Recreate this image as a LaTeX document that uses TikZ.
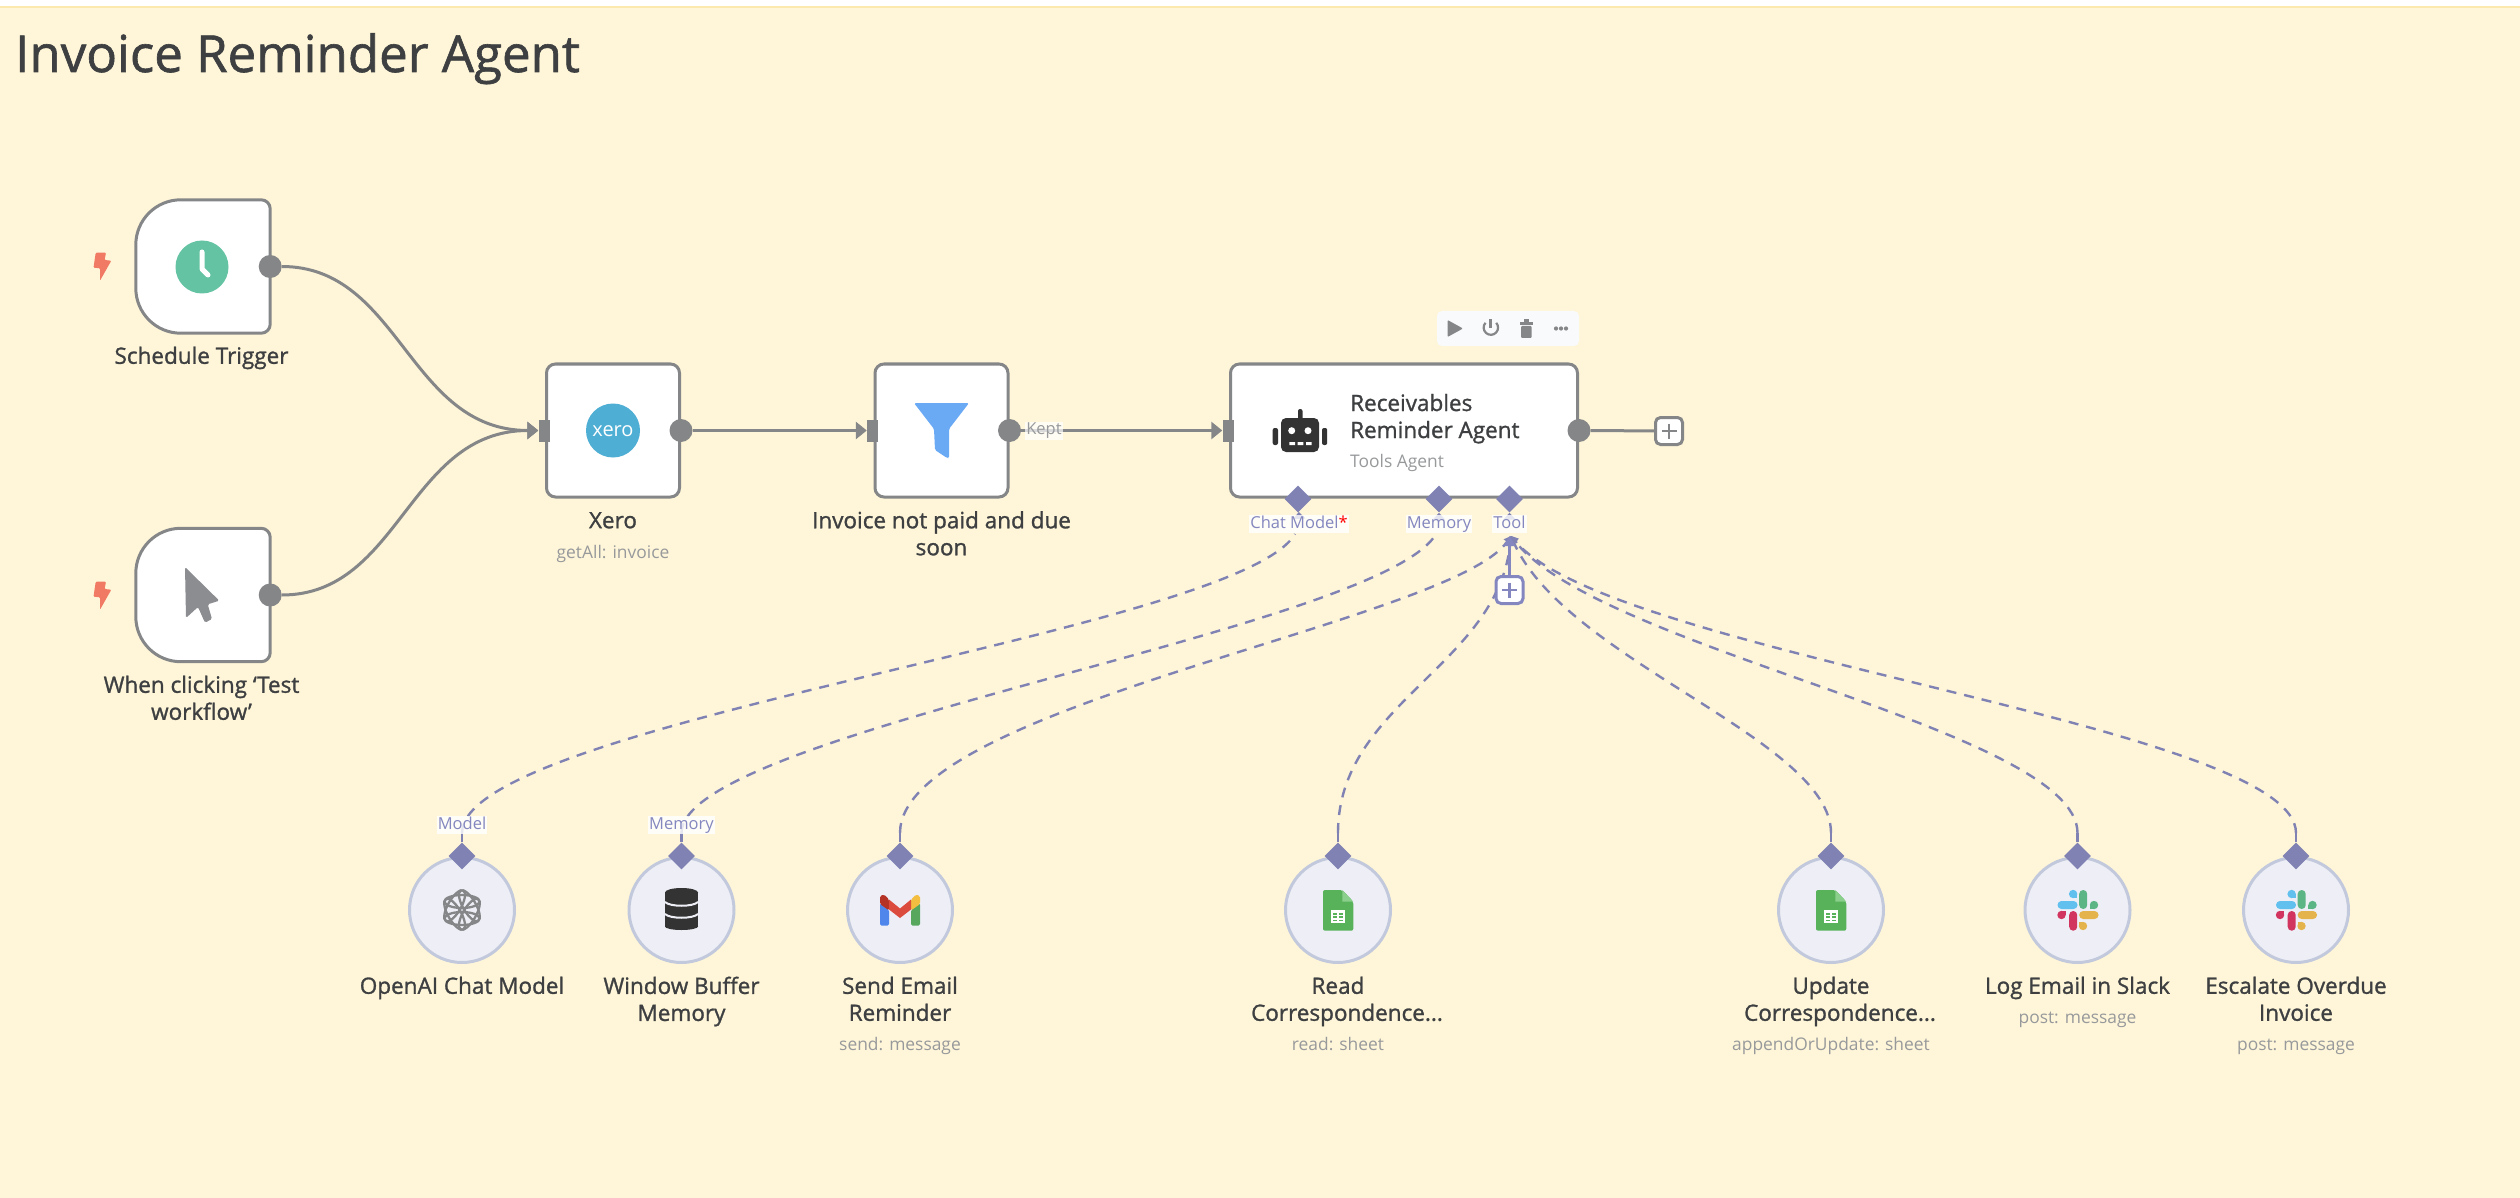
\documentclass[tikz,border=0pt]{standalone}
\usepackage{fontspec}
\setmainfont{Open Sans}
\newfontfamily\labfont[FakeBold=1.2]{Open Sans}
\usetikzlibrary{shapes.geometric,arrows.meta}
\pgfdeclarelayer{bgl}\pgfdeclarelayer{wires}
\pgfsetlayers{bgl,wires,main}
\definecolor{paper}{HTML}{FFF6D9}
\definecolor{paperline}{HTML}{FBE9AE}
\definecolor{ink}{HTML}{3D3F41}
\definecolor{subink}{HTML}{97999B}
\definecolor{wire}{HTML}{858688}
\definecolor{cursorgray}{HTML}{8B8D90}
\definecolor{lilac}{HTML}{7F82B3}
\definecolor{lilactext}{HTML}{8487BF}
\definecolor{circfill}{HTML}{EEEFF6}
\definecolor{circline}{HTML}{C3C9DC}
\definecolor{sheetgreen}{HTML}{57B25A}
\definecolor{sheetlight}{HTML}{8BCF8C}
\definecolor{skblue}{HTML}{61C0EE}
\definecolor{skgreen}{HTML}{5CB585}
\definecolor{skred}{HTML}{D0345F}
\definecolor{skyellow}{HTML}{E5B34C}
\definecolor{clockg}{HTML}{63C3A2}
\definecolor{xeroblue}{HTML}{4EAED4}
\definecolor{funnelblue}{HTML}{6AA9F4}
\definecolor{boltred}{HTML}{F07A63}
\definecolor{robotdark}{HTML}{333333}
\definecolor{gmblue}{HTML}{4E86EC}
\definecolor{gmgreen}{HTML}{58A75F}
\definecolor{gmdark}{HTML}{B53226}
\definecolor{gmyellow}{HTML}{F4BF41}
\definecolor{gmred}{HTML}{DC4C3E}
\definecolor{barfill}{HTML}{F9FAFC}
\tikzset{
  nodebox/.style={draw=wire,line width=3pt,fill=white,rounded corners=9pt,minimum height=133pt,inner sep=0pt},
  trigbox/.style={draw=none,minimum width=134pt,minimum height=133pt,inner sep=0pt},
  subnode/.style={circle,draw=circline,line width=3pt,fill=circfill,minimum size=105pt,inner sep=0pt},
  outport/.style={circle,fill=wire,minimum size=23pt,inner sep=0pt},
  inport/.style={rectangle,fill=wire,minimum width=11pt,minimum height=22pt,inner sep=0pt},
  lpin/.style={diamond,fill=lilac,minimum size=27pt,inner sep=0pt},
  flow/.style={draw=wire,line width=3pt},
  flowtip/.style={flow,-{Triangle[length=11pt,width=17pt]}},
  aux/.style={draw=lilac,line width=2.4pt,dash pattern=on 10pt off 8pt},
  toolaux/.style={aux,-{Triangle[length=7pt,width=8pt]}},
  stub/.style={draw=lilac,line width=2.4pt},
  lab/.style={anchor=north,inner sep=0pt,align=center,text=ink,font=\labfont\fontsize{22.5}{27}\selectfont,execute at begin node={\rule{0pt}{17pt}}},
  sublab/.style={anchor=base,inner sep=0pt,text=subink,font=\fontsize{17.4}{22}\selectfont},
  pinlab/.style={inner sep=1pt,text height=12pt,text depth=4pt,fill=white,fill opacity=.8,text opacity=1,text=lilactext,font=\fontsize{16.5}{20}\selectfont},
  plusbox/.style={rectangle,draw=#1,line width=3pt,fill=white,rounded corners=5pt,minimum size=27pt,inner sep=0pt},
  bolticon/.pic={\fill[boltred,rounded corners=1pt] (95.7,252.7)--(106,252.7)--(104.6,260)--(111.3,260.7)--(100,280.7)--(100,268.3)--(93.5,267.7)--cycle;},
  gsheet/.pic={
    \fill[sheetgreen,rounded corners=2pt] (-15,-20)--(4.3,-20)--(15.3,-8.3)--(15.3,20.7)--(-15,20.7)--cycle;
    \fill[sheetlight] (4.3,-20)--(15.3,-8.3)--(4.3,-8.3)--cycle;
    \fill[white] (-7,0) rectangle (7,13);
    \foreach \yy in {3.2,6.4,9.6}{\fill[sheetgreen] (-5,\yy) rectangle (-0.8,\yy+1.3);\fill[sheetgreen] (0.8,\yy) rectangle (5,\yy+1.3);}
  },
  slackicon/.pic={
    \fill[skblue,rounded corners=3.9pt] (-20,-9) rectangle (0,-1);
    \fill[skblue] (-4.4,-16) circle (4.2);
    \fill[skblue] (-4.4,-16) rectangle (-0.2,-11.8);
    \fill[skgreen,rounded corners=3.9pt] (1.7,-20) rectangle (9.7,-1);
    \fill[skgreen] (16.5,-5) circle (4.2);
    \fill[skgreen] (12.3,-5) rectangle (16.5,-1);
    \fill[skred,rounded corners=3.9pt] (-8.3,1) rectangle (-0.3,20.7);
    \fill[skred] (-16,5) circle (4.2);
    \fill[skred] (-16,1) rectangle (-11.8,5.2);
    \fill[skyellow,rounded corners=3.9pt] (1.7,1) rectangle (21,9);
    \fill[skyellow] (5.5,16) circle (4.2);
    \fill[skyellow] (1.5,11.5) rectangle (5.7,15.7);
  }
}
\begin{document}
\begin{tikzpicture}[x=1pt,y=-1pt]
\useasboundingbox (0,0) rectangle (2520,1198);
\begin{pgfonlayer}{bgl}
  \fill[white] (0,0) rectangle (2520,1198);
  \fill[paper] (0,6) rectangle (2520,1198);
  \fill[paperline] (0,6) rectangle (2520,8);
\end{pgfonlayer}

\node[anchor=base west,inner sep=0pt,text=ink,font=\labfont\fontsize{51}{60}\selectfont] (title) at (15,72) {Invoice Reminder Agent};

% trigger boxes
\node[trigbox] (sched) at (203,266.5) {};
\node[trigbox] (click) at (203,595) {};
\foreach \t in {sched,click}{
  \draw[draw=wire,line width=3pt,line cap=round,fill=white,rounded corners=9pt] (\t.north) -- (\t.north east) -- (\t.south east) -- (\t.south) [rounded corners=45pt] -- (\t.south west) -- (\t.north west) [sharp corners] -- (\t.north);
}
\pic (boltone) at (0,0) {bolticon};
\pic (bolttwo) at (0,329) {bolticon};

% regular nodes
\node[nodebox,minimum width=133pt] (xero) at (613,430.5) {};
\node[nodebox,minimum width=133pt] (filter) at (941.5,430.5) {};
\node[nodebox,minimum width=347pt] (agent) at (1404,430.5) {};

% ports
\node[outport] (schedout) at (sched.east) {};
\node[outport] (clickout) at (click.east) {};
\node[inport] (xeroin) at ([xshift=-1pt]xero.west) {};
\node[outport] (xeroout) at (xero.east) {};
\node[inport] (filterin) at ([xshift=-1pt]filter.west) {};
\node[outport] (filterout) at (filter.east) {};
\node[inport] (agentin) at ([xshift=-1pt]agent.west) {};
\node[outport] (agentout) at (agent.east) {};
\node[plusbox=wire] (agentplus) at (1669,431) {};
\draw[wire,line width=2.6pt] (agentplus.center) ++(-7.5,0) -- ++(15,0) (agentplus.center) ++(0,-7.5) -- ++(0,15);

% main connectors
\begin{pgfonlayer}{wires}
  \draw[flowtip] (schedout) .. controls +(130,0) and +(-130,0) .. (xeroin.west);
  \draw[flowtip] (clickout) .. controls +(130,0) and +(-130,0) .. (xeroin.west);
  \draw[flowtip] (xeroout) -- (filterin.west);
  \draw[flowtip] (filterout) -- (agentin.west);
  \draw[flow] (agentout) -- (agentplus);
\end{pgfonlayer}
\node[inner sep=1pt,fill=white,fill opacity=.7,text opacity=1,text=subink,font=\fontsize{16.5}{20}\selectfont] (kept) at (1044,431) {Kept};

% agent pins and labels
\node[lpin] (pinchat) at (1298,499) {};
\node[lpin] (pinmem) at (1439,499) {};
\node[lpin] (pintool) at (1509.5,499) {};
\node[pinlab] (labchat) at (1299,524) {Chat Model{\color{red}*}};
\node[pinlab] (labmem) at (1439,524) {Memory};
\node[pinlab] (labtool) at (1509.5,524) {Tool};
\coordinate (endchat) at (1295,534);
\coordinate (endmem) at (1436,534);
\coordinate (endtool) at (1511,536);
\node[plusbox=lilactext] (toolplus) at (1509.5,590) {};
\draw[lilactext,line width=2.6pt] (toolplus.center) ++(-7.5,0) -- ++(15,0) (toolplus.center) ++(0,-7.5) -- ++(0,15);

% sub nodes
\foreach \nm/\xx in {openai/462,winmem/681.5,gmail/900,readsh/1338,updsh/1831,slacklog/2077.5,slackesc/2296}{
  \node[subnode] (\nm) at (\xx,910) {};
  \coordinate (\nm stub) at (\xx,833);
  \node[lpin] (\nm pin) at (\xx,856) {};
}
\node[pinlab] (labmodel) at (462,825) {Model};
\node[pinlab] (labmem2) at (681.5,825) {Memory};

\begin{pgfonlayer}{wires}
  \foreach \nm in {openai,winmem,gmail,readsh,updsh,slacklog,slackesc}{
    \draw[stub] (\nm pin) -- (\nm stub);
  }
  \foreach \p/\l in {pinchat/labchat,pinmem/labmem,pintool/labtool}{
    \draw[stub,-{Triangle[length=7pt,width=12pt]}] (\l.north) -- (\p);
  }
  \draw[aux] (openaistub) .. controls (462,722) and (1238,632) .. (endchat);
  \draw[aux] (winmemstub) .. controls (681.5,732) and (1380,630) .. (endmem);
  \draw[toolaux] (gmailstub) .. controls (900,706) and (1452,622) .. (endtool);
  \draw[toolaux] (readshstub) .. controls (1338,703) and (1498,666) .. (endtool);
  \draw[toolaux] (updshstub) .. controls (1831,740) and (1565,660) .. (endtool);
  \draw[toolaux] (slacklogstub) .. controls (2077.5,730) and (1600,650) .. (endtool);
  \draw[toolaux] (slackescstub) .. controls (2296,725) and (1610,655) .. (endtool);
  \draw[lilactext,line width=2.6pt,-{Triangle[length=10pt,width=11pt]}] (toolplus) -- (1509.5,536);
\end{pgfonlayer}

% toolbar
\fill[barfill,rounded corners=5pt] (1437,311) rectangle (1579,346);
\fill[wire,rounded corners=1pt] (1447.5,320) -- (1463,328.5) -- (1447.5,337) -- cycle;
\draw[wire,line width=2.2pt] (1485.5,322.8) arc[start angle=222,delta angle=-264,radius=7.2];
\draw[wire,line width=2.2pt] (1490.5,319.5) -- (1490.5,328);
\fill[wire] (1519.5,322) rectangle (1533,325);
\fill[wire] (1524,319.5) rectangle (1528.5,322);
\fill[wire,rounded corners=1pt] (1521,326) rectangle (1531.5,338);
\foreach \dx in {1556,1561,1566}{\fill[wire] (\dx,328.5) circle (2.1);}

% icons
\fill[clockg] (202,267) circle (26.5);
\draw[white,line width=5pt,line cap=round,line join=round] (202,252) -- (202,269) -- (208,275);
\fill[cursorgray,rounded corners=1.5pt] (185,567) -- (219.3,600.7) -- (207.7,604.3) -- (212,619) -- (205,622.7) -- (198,607) -- (186,618) -- cycle;
\fill[xeroblue] (613,430.5) circle (27);
\node[inner sep=0pt,text=white,font=\fontsize{20}{24}\selectfont] (xerologo) at (613,431) {xero};
\fill[funnelblue,rounded corners=1.5pt] (914,403) -- (969,403) -- (949,429) -- (949,458) -- (947,458) -- (935,450) -- (934,429) -- cycle;
% robot
\fill[robotdark,rounded corners=5pt] (1281,418) rectangle (1319,452);
\fill[robotdark,rounded corners=2pt] (1298,409) rectangle (1302.5,420);
\fill[robotdark,rounded corners=2pt] (1272.7,428) rectangle (1278,445);
\fill[robotdark,rounded corners=2pt] (1322,428) rectangle (1327.2,445);
\fill[white] (1291.7,430.7) circle (3.5) (1308,430.7) circle (3.5);
\fill[white] (1289.3,442) rectangle (1295,445) (1297.7,442) rectangle (1303.3,445) (1306,442) rectangle (1311.7,445);
% openai
\foreach \ang in {0,60,120,180,240,300}{
  \draw[wire,line width=2.3pt,rotate around={\ang:(462,910)}] (462,901.5) ellipse [x radius=17.5,y radius=6.5];
}
% database
\fill[robotdark] (665,892) rectangle (697.5,927);
\fill[robotdark] (681.5,892.5) ellipse [x radius=16.5,y radius=4.5];
\fill[robotdark] (681.5,926.5) ellipse [x radius=16.5,y radius=3.5];
\draw[circfill,line width=2pt] (665,902) .. controls (670,907) and (693,907) .. (698,902);
\draw[circfill,line width=2pt] (665,914) .. controls (670,919) and (693,919) .. (698,914);
% gmail
\fill[gmblue,rounded corners=1.5pt] (880,903) -- (889,910) -- (889,925.7) -- (880,925.7) -- cycle;
\fill[gmgreen,rounded corners=1.5pt] (920,903) -- (911,910) -- (911,925.7) -- (920,925.7) -- cycle;
\fill[gmdark,rounded corners=1.5pt] (880,904) -- (880,896) -- (884,894.5) -- (889,899.5) -- (889,910.5) -- cycle;
\fill[gmyellow,rounded corners=1.5pt] (920,904) -- (920,896) -- (916,894.5) -- (911,899.5) -- (911,910.5) -- cycle;
\fill[gmred] (889,899.5) -- (900,908.5) -- (911,899.5) -- (911,909.5) -- (900,918) -- (889,909.5) -- cycle;
% sheets and slack
\pic (sheetone) at (1338,910) {gsheet};
\pic (sheettwo) at (1831,910) {gsheet};
\pic (slackone) at (2077.5,910) {slackicon};
\pic (slacktwo) at (2296,910) {slackicon};

% texts
\node[lab] (tsched) at (201.5,346.5) {Schedule Trigger};
\node[lab] (tclick) at (201.5,675.5) {When clicking ‘Test\\workflow’};
\node[lab] (txero) at (613,511) {Xero};
\node[sublab] (sxero) at (613,558) {getAll: invoice};
\node[lab] (tfilter) at (941.5,511) {Invoice not paid and due\\soon};
\node[anchor=base west,inner sep=0pt,text=ink,font=\labfont\fontsize{22.5}{27}\selectfont] (tagenta) at (1350,411) {Receivables};
\node[anchor=base west,inner sep=0pt,text=ink,font=\labfont\fontsize{22.5}{27}\selectfont] (tagentb) at (1350,438) {Reminder Agent};
\node[anchor=base west,inner sep=0pt,text=subink,font=\fontsize{17.4}{22}\selectfont] (sagent) at (1350,467.5) {Tools Agent};
\node[lab] (t1) at (462,976.5) {OpenAI Chat Model};
\node[lab] (t2) at (681.5,976.5) {Window Buffer\\Memory};
\node[lab] (t3) at (900,976.5) {Send Email\\Reminder};
\node[sublab] (s3) at (900,1050) {send: message};
\node[lab] (t4) at (1338,976.5) {Read\\\hspace*{18pt}Correspondence...};
\node[sublab] (s4) at (1338,1050) {read: sheet};
\node[lab] (t5) at (1831,976.5) {Update\\\hspace*{18pt}Correspondence...};
\node[sublab] (s5) at (1831,1050) {appendOrUpdate: sheet};
\node[lab] (t6) at (2077.5,976.5) {Log Email in Slack};
\node[sublab] (s6) at (2077.5,1023) {post: message};
\node[lab] (t7) at (2296,976.5) {Escalate Overdue\\Invoice};
\node[sublab] (s7) at (2296,1050) {post: message};
\end{tikzpicture}
\end{document}
